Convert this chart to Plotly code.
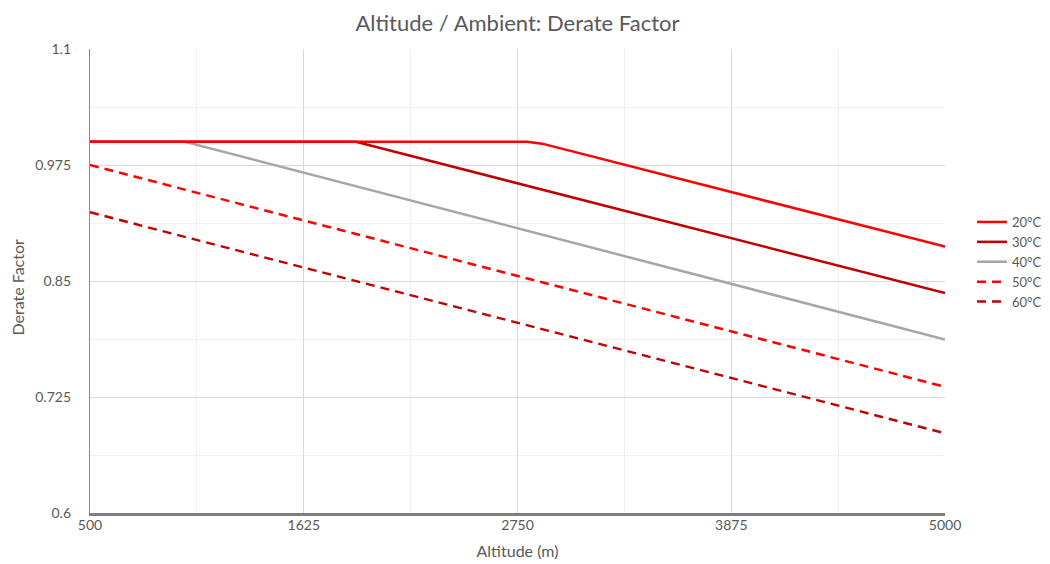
import plotly.graph_objects as go

# Data
series_names = ["20°C", "30°C", "40°C", "50°C", "60°C"]
alt_20 = [500, 2800, 2880, 5000]
val_20 = [1.0, 1.0, 0.998, 0.887]
alt_30 = [500, 1900, 5000]
val_30 = [1.0, 1.0, 0.837]
alt_40 = [500, 1000, 5000]
val_40 = [1.0, 1.0, 0.787]
alt_50 = [500, 5000]
val_50 = [0.975, 0.736]
alt_60 = [500, 5000]
val_60 = [0.924, 0.686]

x_ticks = [500, 1625, 2750, 3875, 5000]
y_ticks = [0.6, 0.725, 0.85, 0.975, 1.1]
y_tick_labels = ["0.6", "0.725", "0.85", "0.975", "1.1"]

colors = ["#FF0000", "#C00000", "#A6A6A6", "#FF0000", "#C00000"]
dashes = ["solid", "solid", "solid", "9px,6px", "9px,6px"]
xs = [alt_20, alt_30, alt_40, alt_50, alt_60]
ys = [val_20, val_30, val_40, val_50, val_60]

# draw order: 20°C on top of the overlapping flat sections
draw_order = [4, 3, 2, 1, 0]

fig = go.Figure()
for i in draw_order:
    fig.add_trace(go.Scatter(x=xs[i], y=ys[i], mode="lines", name=series_names[i],
                             legendrank=i + 1,
                             line=dict(color=colors[i], width=2.5, dash=dashes[i])))

font_family = "Lato, 'Open Sans', sans-serif"
fig.update_layout(
    width=1050, height=564,
    paper_bgcolor="white", plot_bgcolor="white",
    margin=dict(l=82, r=113, t=41, b=59, autoexpand=False),
    title=dict(text="Altitude / Ambient: Derate Factor", x=0.5, xref="paper", xanchor="center",
               y=0.9735, yanchor="middle",
               font=dict(family=font_family, size=22, color="#595959")),
    font=dict(family=font_family, color="#595959", size=14),
    showlegend=True,
    legend=dict(x=1.0316, y=0.541, xanchor="left", yanchor="middle",
                font=dict(size=13, color="#595959"), itemwidth=30,
                bgcolor="rgba(0,0,0,0)", tracegroupgap=0),
    xaxis=dict(range=[500, 5000], tickvals=x_ticks, showgrid=True,
               gridcolor="#D9D9D9", gridwidth=1, automargin=False,
               minor=dict(dtick=562.5, tick0=500, showgrid=True, gridcolor="#F0F0F0", gridwidth=1),
               showline=True, linecolor="#7F7F7F", linewidth=2.5,
               ticks="", zeroline=False, ticklabelstandoff=-3,
               title=dict(text="Altitude (m)", font=dict(size=16, color="#595959"), standoff=15),
               tickfont=dict(size=14, color="#595959")),
    yaxis=dict(range=[0.6, 1.1], tickvals=y_ticks, ticktext=y_tick_labels, showgrid=True,
               gridcolor="#D9D9D9", gridwidth=1, automargin=False,
               minor=dict(dtick=0.0625, tick0=0.6, showgrid=True, gridcolor="#F0F0F0", gridwidth=1),
               showline=True, linecolor="#8C8C8C", linewidth=1.3,
               ticks="", zeroline=False, ticklabelstandoff=15,
               tickfont=dict(size=14, color="#595959")),
    annotations=[dict(text="Derate Factor", textangle=-90, xref="paper", yref="paper",
                      x=-0.0848, y=0.487, xanchor="center", yanchor="middle", showarrow=False,
                      font=dict(family=font_family, size=16, color="#595959"))],
)

fig.write_html("out.html")
